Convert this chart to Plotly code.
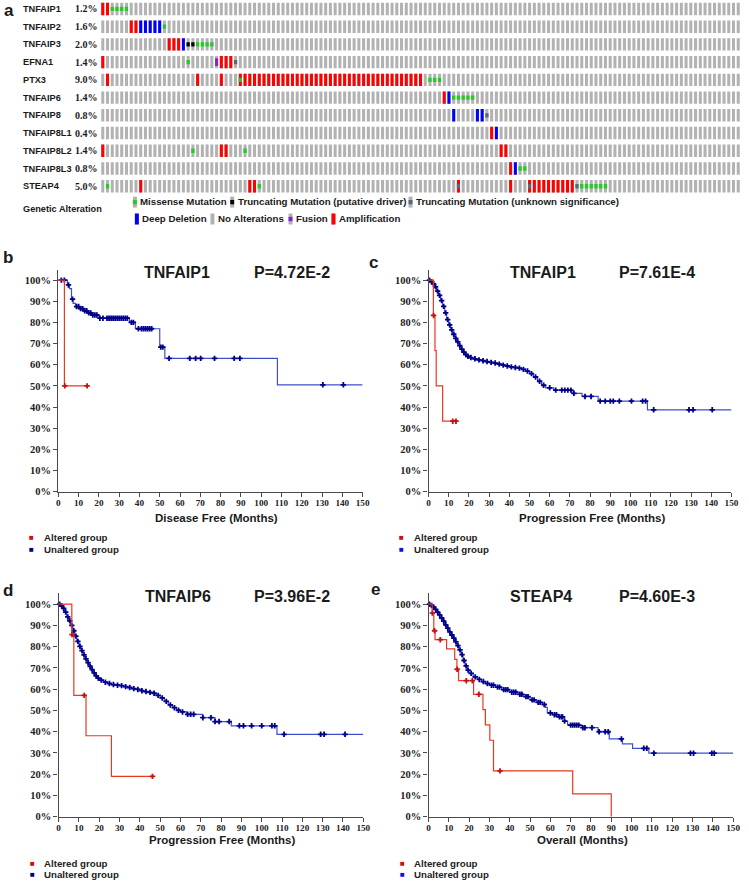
import numpy as np
import plotly.graph_objects as go

W, H = 749, 889

# ---------------- Oncoprint data (panel a) ----------------
genes = ["TNFAIP1", "TNFAIP2", "TNFAIP3", "EFNA1", "PTX3", "TNFAIP6", "TNFAIP8",
         "TNFAIP8L1", "TNFAIP8L2", "TNFAIP8L3", "STEAP4"]
pct_labels = ["1.2%", "1.6%", "2.0%", "1.4%", "9.0%", "1.4%", "0.8%", "0.4%", "1.4%", "0.8%", "5.0%"]
n_cols_shown = 135

amplification = {
    "TNFAIP1": [0, 1],
    "TNFAIP2": [6, 7],
    "TNFAIP3": [14, 15, 16],
    "EFNA1": [0, 25, 26, 27],
    "PTX3": [1, 20, 25, 29, 30, 31, 32, 33, 34, 35, 36, 37, 38, 39, 40, 41, 42, 43, 44, 45, 46,
             47, 48, 49, 50, 51, 52, 53, 54, 55, 56, 57, 58, 59, 60, 61, 62, 63, 64, 65, 66, 67],
    "TNFAIP6": [72],
    "TNFAIP8L1": [82],
    "TNFAIP8L2": [0, 25, 26, 84, 85],
    "TNFAIP8L3": [86],
    "STEAP4": [8, 31, 32, 75, 86, 90, 91, 92, 93, 94, 95, 96, 97, 98, 99],
}
deep_deletion = {
    "TNFAIP2": [8, 9, 10, 11, 12],
    "TNFAIP3": [17],
    "TNFAIP6": [73],
    "TNFAIP8": [74, 79, 80],
    "TNFAIP8L1": [83],
    "TNFAIP8L3": [87],
}
fusion = {"EFNA1": [24]}
missense = {
    "TNFAIP1": [2, 3, 4, 5],
    "TNFAIP2": [13],
    "TNFAIP3": [20, 21, 22, 23],
    "EFNA1": [18],
    "PTX3": [29, 69, 70, 71],
    "TNFAIP6": [74, 75, 76, 77, 78],
    "TNFAIP8L2": [19, 30],
    "TNFAIP8L3": [88, 89],
    "STEAP4": [1, 33, 101, 102, 103, 104, 105, 106],
}
trunc_driver = {"TNFAIP3": [18, 19]}
trunc_unknown = {"EFNA1": [28], "TNFAIP8": [81], "STEAP4": [75, 90, 100]}

# ---------------- Kaplan-Meier data ----------------
# b: TNFAIP1, Disease Free
b_alt_t = [0, 3]
b_alt_s = [100, 50]
b_alt_end = 14.2
b_alt_c = [3.2, 14.2]
b_un_t = [0, 4.5, 5.5, 6.5, 7.3, 8.5, 10.5, 12.5, 14.5, 16.5, 20, 35, 38, 50, 52.5, 108]
b_un_s = [100, 97.7, 96, 91, 89, 87.5, 86.5, 85.5, 84.5, 83.5, 82, 80, 77, 68.3, 63, 50.5]
b_un_end = 150
b_un_c = [1.5, 3, 5, 7, 9, 10, 11, 12, 13, 14, 15, 16, 17, 18, 19, 20.5, 22, 24, 25, 26, 27, 28,
          29, 30, 31, 32, 33, 34, 36, 37, 39.5, 41, 42, 43, 44, 45, 46, 50.5, 51.5, 54.6, 64.8,
          67.7, 70.2, 77, 86.7, 89.5, 130.4, 140.5]

# c: TNFAIP1, Progression Free
c_alt_t = [0, 2.4, 3.2, 3.8, 7]
c_alt_s = [100, 83.3, 66.7, 50, 33.3]
c_alt_end = 14
c_alt_c = [2.5, 12, 13.6]
c_un_t = [0, 1, 2, 3, 4, 5, 6, 7, 8, 9, 10, 11, 12, 13, 14, 15, 16, 17, 18, 19, 20, 22, 24, 26,
          28, 30, 32, 34, 36, 38, 40, 42, 44, 46, 48, 50, 52, 54, 56, 58, 62, 71, 76, 84, 108.4]
c_un_s = [100, 99.3, 98.2, 96.8, 94.8, 92.8, 90.3, 87.6, 84.5, 81.3, 78.8, 76.5, 74.4, 72.5, 70.8,
          69, 67.4, 66, 64.8, 64, 63.4, 62.8, 62.3, 61.9, 61.5, 61.1, 60.8, 60.3, 59.8, 59.4, 59,
          58.7, 58.4, 57.8, 57, 55.8, 54.2, 52.2, 50.3, 49.1, 48, 46.5, 45, 42.8, 38.7]
c_un_end = 150
c_un_c = [0.5, 1.5, 2.5, 3.5, 4.5, 5.5, 6.5, 7.5, 8.5, 9.5, 10.5, 11.5, 12.5, 13.5, 14.5, 15.5,
          16.5, 17.5, 18.5, 19.5, 21, 23, 25, 27, 29, 31, 33, 35, 37, 39, 41, 43, 45, 47, 49, 51,
          53, 55, 57, 60, 63, 66, 67.5, 69, 70.5, 72, 77.5, 80.5, 85, 87.5, 90, 91.5, 94.5, 100.5,
          106, 107.5, 111.5, 129, 131, 140.5]

# d: TNFAIP6, Progression Free
d_alt_t = [0, 6.5, 7.5, 13.5, 26]
d_alt_s = [100, 85.7, 57.1, 38.1, 19]
d_alt_end = 46.2
d_alt_c = [6.6, 12.6, 46.2]
d_un_t = [0, 1, 2, 3, 4, 5, 6, 7, 8, 9, 10, 11, 12, 13, 14, 15, 16, 17, 18, 19, 20, 22, 24, 26,
          28, 30, 32, 34, 36, 38, 40, 42, 44, 46, 48, 50, 52, 54, 56, 58, 60, 63, 71, 77, 85, 107.5]
d_un_s = [100, 99.2, 98, 96.3, 94, 92.2, 90, 87.5, 85, 82.5, 80.2, 78.2, 76.2, 74.3, 72.5, 70.8,
          69.2, 67.7, 66.3, 65.2, 64.3, 63.3, 62.7, 62.2, 61.9, 61.7, 61.2, 60.8, 60.3, 59.9, 59.3,
          58.9, 58.5, 58.1, 57.1, 55.9, 54.3, 52.6, 51.3, 50.1, 49.3, 48.2, 46.6, 44.8, 42.8, 38.8]
d_un_end = 150
d_un_c = [0.5, 1.5, 2.5, 3.5, 4.5, 5.5, 6.5, 7.5, 8.5, 9.5, 10.5, 11.5, 12.5, 13.5, 14.5, 15.5,
          16.5, 17.5, 18.5, 19.5, 21, 23, 25, 27, 29, 31, 33, 35, 37, 39, 41, 43, 45, 47, 49, 51,
          53, 55, 57, 59, 61, 63.5, 65, 66.5, 71, 75, 77, 79, 84, 89, 91, 95, 100, 105, 106.4,
          111, 129, 130.7, 141]

# e: STEAP4, Overall
e_alt_t = [0, 1.8, 2.6, 3.2, 8.9, 12.9, 14, 14.8, 22.2, 26.8, 28, 30.2, 32, 71, 90]
e_alt_s = [100, 95.8, 87.5, 83.3, 79, 74, 69.4, 64, 57.6, 50.4, 43.2, 36, 21.6, 10.8, 0]
e_alt_end = 90
e_alt_c = [1.9, 3, 5.8, 14.1, 18.6, 21.6, 24.8, 35.2]
e_un_t = [0, 1, 2, 3, 4, 5, 6, 7, 8, 9, 10, 11, 12, 13, 14, 15, 16, 17, 18, 19, 20, 22, 24, 26,
          28, 30, 33, 36, 40, 44, 47, 50, 53, 56, 57.5, 58.5, 61, 64, 67, 68.5, 75.5, 83.5, 89,
          95.5, 100.5, 108.5]
e_un_s = [100, 99.4, 98.6, 97.6, 96.3, 95, 93.5, 92, 90.3, 88.7, 87, 85.5, 84, 82.3, 80.5, 78.5,
          76.3, 73.5, 71, 69, 67.5, 65.8, 64.6, 63.6, 62.7, 61.9, 61, 59.8, 58.6, 57.6, 56.5, 55,
          53.8, 52.8, 51.5, 48.8, 48, 47, 45, 43.1, 41.9, 40, 36.6, 34.3, 32.2, 29.9]
e_un_end = 150
e_un_c = [0.5, 1.5, 2.5, 3.5, 4.5, 5.5, 6.5, 7.5, 8.5, 9.5, 10.5, 11.5, 12.5, 13.5, 14.5, 15.5,
          16.5, 17.5, 18.5, 19.5, 21, 23, 25, 27, 29, 31, 32, 34, 35, 37, 38, 39, 41, 42, 43, 45,
          46, 48, 49, 51, 52, 54, 55, 57, 60, 62, 63, 64.5, 65.5, 66, 67, 70, 71, 72, 73, 74, 76,
          77, 80.5, 84, 87, 88.5, 95, 106, 107.5, 111, 129, 130.5, 139.5, 140.7]

# ---------------- helpers ----------------
def px(x, y):
    return x / W, 1 - y / H

SANS = "Liberation Sans, Arial, sans-serif"
SERIF = "Liberation Serif, Times New Roman, serif"

fig = go.Figure()
annotations = []
shapes = []

def text(x, y, s, size, family=SANS, color="#1a1a1a", bold=True, xanchor="left", yanchor="middle"):
    X, Y = px(x, y)
    annotations.append(dict(x=X, y=Y, xref="paper", yref="paper", text=s, showarrow=False,
                            xanchor=xanchor, yanchor=yanchor, borderpad=0,
                            font=dict(family=family, size=size, color=color,
                                      weight="bold" if bold else "normal")))

# ---------------- Oncoprint ----------------
COL0, PITCH = 102.0, 4.8
ROW0, ROWP, ROWH = 9.0, 17.85, 12.5
row_c = [ROW0 + i * ROWP for i in range(len(genes))]

def bar_trace(d, color, h, width=0.64):
    xs, bases = [], []
    for g, cols in d.items():
        i = genes.index(g)
        for c in cols:
            xs.append(c)
            bases.append(row_c[i] - h / 2)
    return go.Bar(x=xs, y=[h] * len(xs), base=bases, width=width, marker=dict(color=color, line=dict(width=0)),
                  xaxis="x", yaxis="y", showlegend=False, hoverinfo="skip")

all_cols = {g: list(range(n_cols_shown)) for g in genes}
fig.add_trace(bar_trace(all_cols, "#b2b2b2", ROWH))
fig.add_trace(bar_trace(amplification, "#ff0000", ROWH))
fig.add_trace(bar_trace(deep_deletion, "#0000ff", ROWH))
fig.add_trace(bar_trace(fusion, "#8424c8", 8.0))
fig.add_trace(bar_trace(missense, "#22cc22", 4.4, 0.7))
fig.add_trace(bar_trace(trunc_driver, "#000000", 4.4, 0.7))
fig.add_trace(bar_trace(trunc_unknown, "#55697a", 4.4, 0.7))

for i, g in enumerate(genes):
    text(20, row_c[i], g, 9.2)
    text(98, row_c[i], pct_labels[i], 10, family=SERIF, xanchor="right")
text(7.5, 0.5, "a", 17, xanchor="center", yanchor="top")
text(20, 210.5, "Genetic Alteration", 9.2)

# oncoprint legend
def legend_icon(x, yc, color, full):
    x0, y0 = px(x - 2, yc - 5.5)
    x1, y1 = px(x + 2, yc + 5.5)
    shapes.append(dict(type="rect", xref="paper", yref="paper", x0=x0, x1=x1, y0=y0, y1=y1,
                       fillcolor="#b2b2b2", line=dict(width=0)))
    if color:
        hh = 5.5 if full else 2.2
        x0, y0 = px(x - 2, yc - hh)
        x1, y1 = px(x + 2, yc + hh)
        shapes.append(dict(type="rect", xref="paper", yref="paper", x0=x0, x1=x1, y0=y0, y1=y1,
                           fillcolor=color, line=dict(width=0)))

legend_row1 = [(134.5, "#22cc22", False, "Missense Mutation"),
               (233, "#000000", False, "Truncating Mutation (putative driver)"),
               (413.5, "#55697a", False, "Truncating Mutation (unknown significance)")]
legend_row2 = [(136.5, "#0000ff", True, "Deep Deletion"),
               (213, None, True, "No Alterations"),
               (292, "#8424c8", False, "Fusion"),
               (335.5, "#ff0000", True, "Amplification")]
for (x, c, full, lab) in legend_row1:
    legend_icon(x, 203.5, c, full)
    text(x + 4.5, 203, lab, 9.7)
for (x, c, full, lab) in legend_row2:
    legend_icon(x, 220.5, c, full)
    text(x + 4.5, 220, lab, 9.7)

# ---------------- KM panels ----------------
def surv_at(t, s, tc):
    t = np.asarray(t, float)
    s = np.asarray(s, float)
    idx = np.searchsorted(t, np.asarray(tc, float), side="right") - 1
    return s[idx]

def km(t, s, end, cens, line_color, mk_color, xa, ya):
    fig.add_trace(go.Scatter(x=list(t) + [end], y=list(s) + [s[-1]], mode="lines",
                             line=dict(shape="hv", color=line_color, width=1.2),
                             xaxis=xa, yaxis=ya, showlegend=False, hoverinfo="skip"))
    fig.add_trace(go.Scatter(x=cens, y=surv_at(t, s, cens), mode="markers",
                             marker=dict(symbol="cross", size=4.5, color=mk_color, line=dict(width=0)),
                             xaxis=xa, yaxis=ya, showlegend=False, hoverinfo="skip", cliponaxis=False))

panels = [
    dict(k="2", lab="b", gene="TNFAIP1", p="P=4.72E-2", xt="Disease Free (Months)",
         x0=57, x1=365, ytop=271.7, y100=282, y0=495, labpos=(6, 259), gpos=(177.5, 274), ppos=(294, 274),
         xtpos=(217.5, 522), leg=(30, 541.5), legblue="#00007a",
         alt=(b_alt_t, b_alt_s, b_alt_end, b_alt_c), un=(b_un_t, b_un_s, b_un_end, b_un_c)),
    dict(k="3", lab="c", gene="TNFAIP1", p="P=7.61E-4", xt="Progression Free (Months)",
         x0=431.7, x1=738.3, ytop=271.7, y100=282, y0=495, labpos=(376, 264), gpos=(547.5, 274), ppos=(662.5, 274),
         xtpos=(596.7, 522), leg=(404.5, 541.5), legblue="#1010e6",
         alt=(c_alt_t, c_alt_s, c_alt_end, c_alt_c), un=(c_un_t, c_un_s, c_un_end, c_un_c)),
    dict(k="4", lab="d", gene="TNFAIP6", p="P=3.96E-2", xt="Progression Free (Months)",
         x0=57.3, x1=365.7, ytop=597.3, y100=608.3, y0=822.3, labpos=(6, 594.5), gpos=(178, 600.7), ppos=(294, 600.7),
         xtpos=(222.5, 846), leg=(31, 869), legblue="#00007a",
         alt=(d_alt_t, d_alt_s, d_alt_end, d_alt_c), un=(d_un_t, d_un_s, d_un_end, d_un_c)),
    dict(k="5", lab="e", gene="STEAP4", p="P=4.60E-3", xt="Overall (Months)",
         x0=431.7, x1=740, ytop=597.3, y100=608.3, y0=822.3, labpos=(378, 594), gpos=(545.8, 600.7), ppos=(662.5, 600.7),
         xtpos=(587.8, 846), leg=(405, 869), legblue="#1010e6",
         alt=(e_alt_t, e_alt_s, e_alt_end, e_alt_c), un=(e_un_t, e_un_s, e_un_end, e_un_c)),
]

layout_axes = {}
axis_common = dict(showline=True, linecolor="#4a4a4a", linewidth=1.3, ticks="outside", ticklen=4,
                   tickwidth=1, tickcolor="#4a4a4a", showgrid=False, zeroline=False, fixedrange=True,
                   ticklabeloverflow="allow")

for pnl in panels:
    k = pnl["k"]
    xa, ya = "x" + k, "y" + k
    ytop_pct = 100 * (pnl["y0"] - pnl["ytop"]) / (pnl["y0"] - pnl["y100"])
    layout_axes["xaxis" + k] = dict(axis_common, domain=[pnl["x0"] / W, pnl["x1"] / W], range=[0, 150],
                                   anchor=ya, tickmode="linear", tick0=0, dtick=10, ticklabelstandoff=-2,
                                   tickfont=dict(family=SERIF, size=9.2, color="#222", weight="bold"))
    layout_axes["yaxis" + k] = dict(axis_common, domain=[1 - pnl["y0"] / H, 1 - pnl["ytop"] / H],
                                   range=[0, ytop_pct], anchor=xa, tickmode="linear", tick0=0, dtick=10,
                                   ticksuffix="%",
                                   tickfont=dict(family=SERIF, size=10.5, color="#222", weight="bold"))
    t, s, end, c = pnl["un"]
    km(t, s, end, c, "#3f4fcc", "#000088", xa, ya)
    t, s, end, c = pnl["alt"]
    km(t, s, end, c, "#e8381e", "#c41010", xa, ya)

    text(pnl["labpos"][0], pnl["labpos"][1], pnl["lab"], 17, xanchor="center")
    text(pnl["gpos"][0], pnl["gpos"][1], pnl["gene"], 16, xanchor="center")
    text(pnl["ppos"][0], pnl["ppos"][1], pnl["p"], 16, xanchor="center")
    text(pnl["xtpos"][0], pnl["xtpos"][1], pnl["xt"], 11.5, xanchor="center")
    lx, ly = pnl["leg"]
    text(lx, ly, "■", 8, color="#cc1010", xanchor="center")
    text(lx + 11, ly, "Altered group", 9.7, color="#222")
    text(lx, ly + 11.5, "■", 8, color=pnl["legblue"], xanchor="center")
    text(lx + 11, ly + 11.5, "Unaltered group", 9.7, color="#222")

fig.update_layout(
    width=W, height=H, margin=dict(l=0, r=0, t=0, b=0), autosize=False,
    paper_bgcolor="white", plot_bgcolor="white", barmode="overlay", showlegend=False,
    xaxis=dict(domain=[0, 1], range=[(0 - COL0) / PITCH, (W - COL0) / PITCH], visible=False, fixedrange=True),
    yaxis=dict(domain=[1 - 200 / H, 1], range=[200, 0], visible=False, fixedrange=True),
    annotations=annotations, shapes=shapes,
    **layout_axes,
)

fig.write_html(
    "out.html",
    config={"displayModeBar": False},
    post_script="document.body.style.margin='0';document.documentElement.style.overflow='hidden';"
                "document.body.style.overflow='hidden';",
)
